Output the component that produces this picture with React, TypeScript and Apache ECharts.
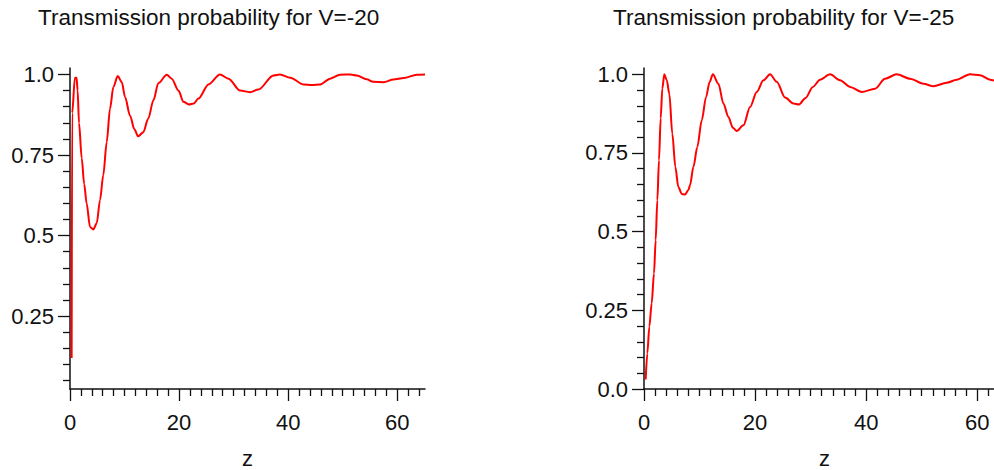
import React, { useEffect, useRef } from "react";
import * as echarts from "echarts";

// Transmission probability, V = -20 (left panel)
const zV20 = [0.3, 0.4, 0.9, 1.2, 1.4, 1.65, 2.15, 2.6, 3.05, 3.67, 4.28, 4.9, 5.5, 6.1, 6.73, 7.34, 7.95, 8.75, 9.5, 10.1, 11.0, 11.8, 12.5, 13.45, 14.35, 15.3, 16.2, 17.75, 18.65, 19.9, 20.8, 21.8, 22.7, 23.55, 25.4, 27.5, 29.05, 31.2, 33.0, 34.55, 37.3, 38.5, 40.4, 42.8, 44.3, 45.9, 47.7, 49.5, 51.4, 52.6, 54.4, 55.6, 57.5, 59.3, 61.2, 63.6, 65.1];
const tV20 = [0.12, 0.88, 0.99, 0.99, 0.95, 0.85, 0.74, 0.66, 0.6, 0.527, 0.519, 0.538, 0.61, 0.687, 0.79, 0.894, 0.961, 0.995, 0.976, 0.93, 0.873, 0.83, 0.808, 0.821, 0.863, 0.92, 0.973, 0.999, 0.987, 0.95, 0.915, 0.907, 0.91, 0.925, 0.969, 1.0, 0.987, 0.95, 0.945, 0.953, 0.997, 1.0, 0.99, 0.969, 0.967, 0.969, 0.987, 0.999, 1.0, 0.997, 0.985, 0.977, 0.976, 0.984, 0.989, 0.999, 1.0];

// Transmission probability, V = -25 (right panel)
const zV25 = [0.3, 0.6, 0.96, 1.38, 1.8, 2.1, 2.4, 2.7, 3.0, 3.3, 3.66, 4.1, 4.56, 5.1, 5.64, 6.18, 6.8, 7.39, 8.0, 8.29, 8.9, 9.6, 10.4, 11.17, 11.8, 12.4, 13.4, 14.3, 15.2, 16.0, 16.7, 17.9, 19.1, 20.3, 21.5, 22.7, 23.9, 25.4, 26.9, 27.9, 29.1, 30.4, 31.7, 33.5, 35.3, 37.1, 39.2, 41.6, 43.4, 45.5, 47.9, 50.3, 52.1, 54.5, 56.3, 58.7, 60.5, 62.3, 64.0, 65.0];
const tV25 = [0.03, 0.113, 0.198, 0.272, 0.367, 0.473, 0.6, 0.727, 0.86, 0.955, 1.0, 0.981, 0.938, 0.811, 0.706, 0.642, 0.62, 0.618, 0.632, 0.648, 0.706, 0.769, 0.854, 0.927, 0.975, 1.0, 0.97, 0.907, 0.864, 0.83, 0.82, 0.838, 0.896, 0.944, 0.981, 1.0, 0.976, 0.926, 0.907, 0.904, 0.925, 0.96, 0.983, 1.0, 0.981, 0.96, 0.944, 0.954, 0.986, 1.0, 0.986, 0.97, 0.962, 0.973, 0.983, 1.0, 0.997, 0.983, 0.976, 0.975];

const xMajorTicks = [0, 20, 40, 60];
const xMinorTicks = [2, 4, 6, 8, 10, 12, 14, 16, 18, 22, 24, 26, 28, 30, 32, 34, 36, 38, 42, 44, 46, 48, 50, 52, 54, 56, 58, 62, 64];
const yMajorTicksLeft = [0.25, 0.5, 0.75, 1.0];
const yMajorTicksRight = [0.0, 0.25, 0.5, 0.75, 1.0];
const yMinorTicksLeft = [0.05, 0.1, 0.15, 0.2, 0.3, 0.35, 0.4, 0.45, 0.55, 0.6, 0.65, 0.7, 0.8, 0.85, 0.9, 0.95];
const yMinorTicksRight = [0.05, 0.1, 0.15, 0.2, 0.3, 0.35, 0.4, 0.45, 0.55, 0.6, 0.65, 0.7, 0.8, 0.85, 0.9, 0.95];
const titles = ["Transmission probability for V=-20", "Transmission probability for V=-25"];
const xName = "z";

const FONT = "'Liberation Sans', Arial, sans-serif";
const INK = "#111";

function fmtY(v: number) {
  if (Math.abs(v) < 1e-9) return "0.0";
  if (Math.abs(v - 1) < 1e-9) return "1.0";
  return String(v);
}

export default function App() {
  const ref = useRef<HTMLDivElement>(null);
  useEffect(() => {
    if (!ref.current) return;
    const chart = echarts.init(ref.current, undefined, { renderer: "svg" });
    const grids = [
      { left: 70, top: 68, width: 355, height: 321, outerBoundsMode: "none", containLabel: false },
      { left: 644, top: 68, width: 361, height: 321, outerBoundsMode: "none", containLabel: false },
    ];
    const xRanges = [[0, 65.1], [0, 65.0]];
    const yRanges = [[0.024, 1.02], [0, 1.02]];
    const yMajors = [yMajorTicksLeft, yMajorTicksRight];
    const yMinors = [yMinorTicksLeft, yMinorTicksRight];
    const xAxes: any[] = [];
    const yAxes: any[] = [];
    for (let g = 0; g < 2; g++) {
      xAxes.push({
        gridIndex: g, type: "value", position: "bottom",
        min: xRanges[g][0], max: xRanges[g][1],
        axisLine: { show: true, onZero: false, lineStyle: { color: INK, width: 1.5 } },
        axisTick: { show: true, length: 12, customValues: xMajorTicks, lineStyle: { color: INK, width: 1.3 } },
        axisLabel: { show: true, customValues: xMajorTicks, fontSize: 22, fontFamily: FONT, color: INK, margin: 22 },
        splitLine: { show: false },
        name: xName, nameLocation: "middle", nameGap: 58,
        nameTextStyle: { fontSize: 22, fontFamily: FONT, color: INK },
      });
      xAxes.push({
        gridIndex: g, type: "value", position: "bottom",
        min: xRanges[g][0], max: xRanges[g][1],
        axisLine: { show: false, onZero: false },
        axisTick: { show: true, length: 7, customValues: xMinorTicks, lineStyle: { color: INK, width: 1.3 } },
        axisLabel: { show: false },
        splitLine: { show: false },
      });
      yAxes.push({
        gridIndex: g, type: "value", position: "left",
        min: yRanges[g][0], max: yRanges[g][1],
        axisLine: { show: true, onZero: false, lineStyle: { color: INK, width: 1.5 } },
        axisTick: { show: true, length: 12, customValues: yMajors[g], lineStyle: { color: INK, width: 1.3 } },
        axisLabel: { show: true, customValues: yMajors[g], fontSize: 22, fontFamily: FONT, color: INK, margin: 16, formatter: (v: number) => fmtY(v) },
        splitLine: { show: false },
      });
      yAxes.push({
        gridIndex: g, type: "value", position: "left",
        min: yRanges[g][0], max: yRanges[g][1],
        axisLine: { show: false, onZero: false },
        axisTick: { show: true, length: 7, customValues: yMinors[g], lineStyle: { color: INK, width: 1.3 } },
        axisLabel: { show: false },
        splitLine: { show: false },
      });
    }
    const mk = (zs: number[], ts: number[]) => zs.map((z, i) => [z, ts[i]]);
    chart.setOption({
      animation: false,
      grid: grids,
      xAxis: xAxes,
      yAxis: yAxes,
      graphic: [
        { type: "text", left: 38, top: 6, style: { text: titles[0], fontSize: 22.5, fontFamily: FONT, fill: INK } },
        { type: "text", left: 613, top: 6, style: { text: titles[1], fontSize: 22.5, fontFamily: FONT, fill: INK } },
      ],
      series: [
        {
          type: "line", xAxisIndex: 0, yAxisIndex: 0, data: mk(zV20, tV20),
          showSymbol: false, smooth: 0.3, smoothMonotone: "x",
          lineStyle: { color: "#ff0000", width: 2 },
        },
        {
          type: "line", xAxisIndex: 2, yAxisIndex: 2, data: mk(zV25, tV25),
          showSymbol: false, smooth: 0.3, smoothMonotone: "x",
          lineStyle: { color: "#ff0000", width: 2 },
        },
      ],
    });
    return () => chart.dispose();
  }, []);
  return <div ref={ref} style={{ position: "fixed", left: 0, top: 0, width: 994, height: 470, background: "#fff" }} />;
}
